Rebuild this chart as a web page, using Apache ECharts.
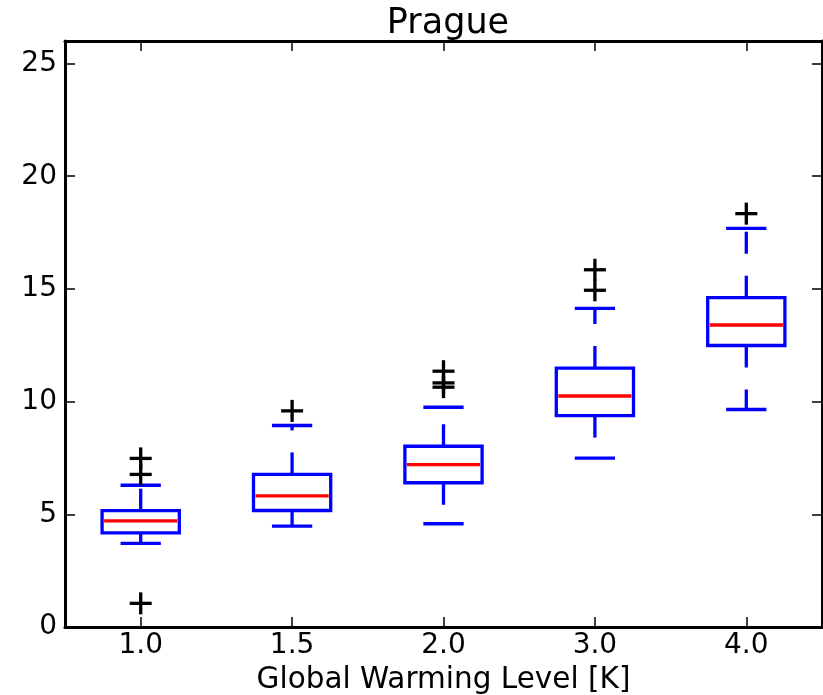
<!DOCTYPE html>
<html>
<head>
<meta charset="utf-8">
<script src="https://cdn.jsdelivr.net/npm/echarts@6/dist/echarts.min.js"></script>
<style>
  html, body { margin: 0; padding: 0; background: #fff; }
  #chart { width: 823px; height: 695px; }
</style>
</head>
<body>
<div id="chart"></div>
<script>
// warming levels on the x axis
const categories = ['1.0', '1.5', '2.0', '3.0', '4.0'];

// box statistics per level
const whiskerLow = [3.71, 4.48, 4.58, 7.49, 9.65];
const q1 = [4.18, 5.17, 6.40, 9.38, 12.49];
const median = [4.71, 5.82, 7.20, 10.25, 13.40];
const q3 = [5.16, 6.77, 8.02, 11.49, 14.61];
const whiskerHigh = [6.29, 8.94, 9.75, 14.14, 17.69];

// outliers: [category index, value]
const outliers = [
  [0, 7.48], [0, 6.77], [0, 1.05],
  [1, 9.59],
  [2, 11.35], [2, 10.83], [2, 10.64],
  [3, 15.85], [3, 14.94],
  [4, 18.34]
];

const yTicks = [0, 5, 10, 15, 20, 25];

const font = 'DejaVu Sans';
const blue = '#0000ff';

const boxData = categories.map((c, i) => [i, whiskerLow[i], q1[i], median[i], q3[i], whiskerHigh[i]]);

function renderBox(params, api) {
  const i = api.value(0);
  const band = api.size([1, 0])[0];
  const half = band * 0.255;
  const capHalf = band * 0.133;
  const x = api.coord([i, 0])[0];
  const yLow = api.coord([i, api.value(1)])[1];
  const yQ1 = api.coord([i, api.value(2)])[1];
  const yMed = api.coord([i, api.value(3)])[1];
  const yQ3 = api.coord([i, api.value(4)])[1];
  const yHigh = api.coord([i, api.value(5)])[1];
  const solid = { stroke: blue, lineWidth: 3.3, fill: null };
  const dashed = { stroke: blue, lineWidth: 3.3, lineDash: [22, 22] };
  return {
    type: 'group',
    children: [
      { type: 'line', shape: { x1: x, y1: yQ3, x2: x, y2: yHigh }, style: dashed },
      { type: 'line', shape: { x1: x, y1: yQ1, x2: x, y2: yLow }, style: dashed },
      { type: 'line', shape: { x1: x - capHalf, y1: yHigh, x2: x + capHalf, y2: yHigh }, style: solid },
      { type: 'line', shape: { x1: x - capHalf, y1: yLow, x2: x + capHalf, y2: yLow }, style: solid },
      { type: 'rect', shape: { x: x - half, y: yQ3, width: half * 2, height: yQ1 - yQ3 }, style: solid },
      { type: 'line', shape: { x1: x - half + 2, y1: yMed, x2: x + half - 2, y2: yMed }, style: { stroke: '#ff0000', lineWidth: 3.3 } }
    ]
  };
}

function renderCross(params, api) {
  const p = api.coord([api.value(0), api.value(1)]);
  const s = 11;
  const st = { stroke: '#000', lineWidth: 3.3 };
  return {
    type: 'group',
    children: [
      { type: 'line', shape: { x1: p[0] - s, y1: p[1], x2: p[0] + s, y2: p[1] }, style: st },
      { type: 'line', shape: { x1: p[0], y1: p[1] - s, x2: p[0], y2: p[1] + s }, style: st }
    ]
  };
}

const axisLine = { show: true, onZero: false, lineStyle: { color: '#000', width: 3 } };
const axisTick = { show: true, inside: true, length: 10, lineStyle: { color: '#000', width: 1.5 } };

const option = {
  backgroundColor: '#fff',
  animation: false,
  title: {
    text: 'Prague',
    left: 443,
    textAlign: 'center',
    top: 1,
    textStyle: { fontFamily: font, fontSize: 35, fontWeight: 'normal', color: '#000' }
  },
  grid: { left: 65, right: 1, top: 41, bottom: 68, outerBoundsMode: 'none', containLabel: false },
  xAxis: [
    {
      type: 'category',
      data: categories,
      position: 'bottom',
      boundaryGap: true,
      axisLine: axisLine,
      axisTick: Object.assign({ alignWithLabel: true }, axisTick),
      axisLabel: { fontFamily: font, fontSize: 28, color: '#000', margin: 5 },
      splitLine: { show: false },
      name: 'Global Warming Level [K]',
      nameLocation: 'middle',
      nameGap: 34,
      nameTextStyle: { fontFamily: font, fontSize: 29.5, color: '#000' }
    },
    {
      type: 'category',
      data: categories,
      position: 'top',
      boundaryGap: true,
      axisLine: axisLine,
      axisTick: Object.assign({ alignWithLabel: true }, axisTick),
      axisLabel: { show: false },
      splitLine: { show: false }
    }
  ],
  yAxis: [
    {
      type: 'value',
      min: 0,
      max: 26,
      interval: 5,
      position: 'left',
      axisLine: axisLine,
      axisTick: axisTick,
      axisLabel: {
        fontFamily: font, fontSize: 28, color: '#000', margin: 8,
        showMaxLabel: false,
        formatter: v => (yTicks.indexOf(v) >= 0 ? String(v) : '')
      },
      splitLine: { show: false }
    },
    {
      type: 'value',
      min: 0,
      max: 26,
      interval: 5,
      position: 'right',
      axisLine: axisLine,
      axisTick: axisTick,
      axisLabel: { show: false },
      splitLine: { show: false }
    }
  ],
  series: [
    {
      type: 'custom',
      xAxisIndex: 0,
      yAxisIndex: 0,
      renderItem: renderBox,
      encode: { x: 0, y: [1, 2, 3, 4, 5] },
      data: boxData,
      z: 2
    },
    {
      type: 'custom',
      xAxisIndex: 0,
      yAxisIndex: 0,
      renderItem: renderCross,
      encode: { x: 0, y: 1 },
      data: outliers,
      z: 3
    }
  ]
};

const chart = echarts.init(document.getElementById('chart'), null, { renderer: 'canvas' });
chart.setOption(option);
</script>
</body>
</html>
